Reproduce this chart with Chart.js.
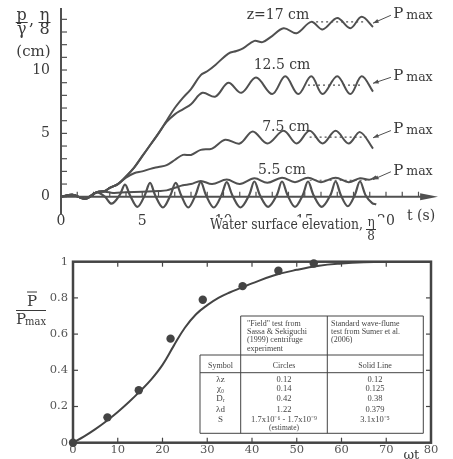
<!DOCTYPE html>
<html><head><meta charset="utf-8">
<script src="https://cdn.jsdelivr.net/npm/chart.js@4"></script>
<style>
html,body{margin:0;padding:0;background:#fff;width:453px;height:459px;overflow:hidden}
canvas{position:absolute;left:0}
#c1{top:0}
#c2{top:240px}
</style></head><body>
<canvas id="c1" width="453" height="240"></canvas>
<canvas id="c2" width="453" height="219"></canvas>
<script>
// ---------- Top chart data: p/gamma and eta/8 (cm) vs t (s) ----------
const waterT = [0, 0.7, 1.5, 2.2, 2.7, 3.12, 3.6, 3.94, 4.25, 4.7, 5.15, 5.48, 5.8, 6.27, 6.73, 7.06, 7.4, 7.83, 8.27, 8.6, 8.93, 9.4, 9.87, 10.2, 10.55, 11.05, 11.57, 11.9, 12.25, 12.75, 13.27, 13.6, 13.95, 14.4, 14.87, 15.2, 15.55, 16.05, 16.57, 16.9, 17.23, 17.65, 18.07, 18.4, 18.75, 19.15, 19.4];
const waterV = [0, 0.15, -0.15, 0.35, 0.0, -0.55, 0.1, 0.95, 0.1, -0.8, 0.1, 1.1, 0.1, -0.85, 0.1, 1.1, 0.1, -0.85, 0.1, 1.15, 0.1, -0.85, 0.1, 1.15, 0.1, -0.85, 0.1, 1.2, 0.1, -0.8, 0.1, 1.2, 0.1, -0.8, 0.1, 1.2, 0.1, -0.8, 0.1, 1.2, 0.1, -0.75, 0.1, 1.2, 0.1, -0.5, -0.6];

const z17T = [0, 0.7, 1.5, 2.2, 2.7, 3.0, 3.5, 4, 4.5, 5, 5.5, 6, 6.5, 7, 7.5, 8, 8.6, 9.0, 9.5, 10.3, 10.8, 11.2, 11.9, 12.4, 12.9, 13.7, 14.5, 15.4, 16.1, 17.0, 17.8, 18.5, 19.2];
const z17V = [0, 0.15, -0.15, 0.35, 0.45, 0.7, 1.0, 1.6, 2.3, 3.2, 4.1, 5.0, 6.0, 7.0, 7.8, 8.5, 9.6, 9.9, 10.4, 11.3, 11.5, 11.7, 12.3, 12.2, 12.6, 13.3, 12.9, 13.8, 13.2, 14.1, 13.3, 14.2, 13.4];

const z125T = [0, 0.7, 1.5, 2.2, 2.7, 3.0, 3.5, 4, 4.5, 5, 5.5, 6, 6.5, 7, 7.5, 8, 8.7, 9.5, 10.3, 11.1, 12.0, 13.0, 13.8, 14.6, 15.4, 16.1, 17.0, 17.8, 18.5, 19.2];
const z125V = [0, 0.15, -0.15, 0.35, 0.45, 0.7, 1.0, 1.6, 2.3, 3.2, 4.1, 5.0, 5.9, 6.5, 6.9, 7.3, 8.2, 7.9, 9.0, 8.2, 9.4, 8.1, 9.5, 8.1, 9.5, 8.1, 9.5, 8.1, 9.5, 8.3];

const z75T = [0, 0.7, 1.5, 2.2, 2.7, 3.0, 3.5, 4, 4.5, 5, 5.5, 6, 6.5, 7, 7.5, 8, 8.6, 9.3, 10.1, 11.0, 11.8, 12.7, 13.7, 14.5, 15.3, 16.1, 16.9, 17.7, 18.4, 19.2];
const z75V = [0, 0.15, -0.15, 0.35, 0.45, 0.7, 1.0, 1.5, 1.85, 2.0, 2.2, 2.35, 2.5, 2.9, 3.3, 3.3, 3.7, 3.8, 4.5, 4.2, 5.15, 4.2, 5.2, 4.2, 5.2, 4.2, 5.2, 4.2, 5.1, 3.8];

const z55T = [0, 0.7, 1.5, 2.2, 2.7, 3.2, 4, 5, 6, 6.5, 7, 7.5, 8, 8.6, 9.3, 10.2, 11.0, 11.9, 12.7, 13.6, 14.4, 15.2, 16.0, 16.9, 17.7, 18.4, 19.0, 19.4];
const z55V = [0, 0.15, -0.15, 0.35, 0.4, 0.3, 0.35, 0.4, 0.45, 0.5, 0.7, 0.9, 1.0, 1.25, 1.0, 1.35, 1.0, 1.45, 1.1, 1.5, 1.15, 1.5, 1.15, 1.5, 1.15, 1.45, 1.35, 1.6];

// p max levels (dotted lines) and their time spans
const pmaxLevels = [13.8, 8.8, 4.7, 1.3];
const pmaxFrom = [15.7, 15.2, 15.3, 15.3];
const pmaxTo = [18.6, 18.4, 18.8, 18.8];
const curveNames = ['z=17 cm', '12.5 cm', '7.5 cm', '5.5 cm'];

const topYTickLabels = [0, 5, 10];
const topXTickLabels = [0, 5, 10, 15, 20];

// ---------- Bottom chart data: P/Pmax vs omega t ----------
const lineWt = [0, 2.5, 5, 7.5, 10, 12.5, 15, 17.5, 20, 22.5, 25, 27.5, 30, 32.5, 35, 37.5, 40, 45, 50, 55, 60, 65, 70, 75, 80];
const lineP = [0, 0.035, 0.075, 0.12, 0.17, 0.225, 0.285, 0.35, 0.43, 0.535, 0.635, 0.71, 0.76, 0.8, 0.83, 0.855, 0.88, 0.925, 0.955, 0.978, 0.99, 0.997, 1.0, 1.0, 1.0];
const circleWt = [0, 7.7, 14.7, 21.8, 29.0, 37.9, 45.9, 53.8];
const circleP = [0, 0.14, 0.29, 0.575, 0.79, 0.865, 0.95, 0.99];

const tableHead2 = ['"Field" test from', 'Sassa & Sekiguchi', '(1999) centrifuge', 'experiment'];
const tableHead3 = ['Standard wave-flume', 'test from Sumer et al.', '(2006)'];
const tableSymbols = ['λz', 'χ₀', 'Dᵣ', 'λd', 'S'];
const tableCircles = ['0.12', '0.14', '0.42', '1.22', '1.7x10⁻⁶ - 1.7x10⁻⁹'];
const tableSolid = ['0.12', '0.125', '0.38', '0.379', '3.1x10⁻⁵'];

// ---------- helpers ----------
const zip = (a, b) => a.map((v, i) => ({x: v, y: b[i]}));
const SERIF = '"DejaVu Serif", "Liberation Serif", serif';
const INK = '#3a3a3a';
const LINE = '#505050';
Chart.defaults.font.family = SERIF;
Chart.defaults.color = INK;

function frac(ctx, top, bottom, cx, cy, size, w) {
  ctx.font = size + 'px ' + SERIF;
  ctx.textAlign = 'center';
  ctx.textBaseline = 'alphabetic';
  ctx.fillText(top, cx, cy - 2);
  ctx.fillText(bottom, cx, cy + size * 0.78);
  ctx.lineWidth = 1;
  ctx.beginPath(); ctx.moveTo(cx - w / 2, cy + 0.5); ctx.lineTo(cx + w / 2, cy + 0.5); ctx.stroke();
}

function arrow(ctx, x1, y1, x2, y2) {
  ctx.beginPath(); ctx.moveTo(x1, y1); ctx.lineTo(x2, y2); ctx.stroke();
  const ang = Math.atan2(y2 - y1, x2 - x1);
  ctx.beginPath();
  ctx.moveTo(x2, y2);
  ctx.lineTo(x2 - 6 * Math.cos(ang - 0.35), y2 - 6 * Math.sin(ang - 0.35));
  ctx.lineTo(x2 - 6 * Math.cos(ang + 0.35), y2 - 6 * Math.sin(ang + 0.35));
  ctx.closePath(); ctx.fill();
}

const noPadX = s => { s.paddingLeft = 0; s.paddingRight = 0; };
const noPadY = s => { s.paddingTop = 0; s.paddingBottom = 0; };

// ---------- Top chart ----------
const topAxes = {
  id: 'topAxes',
  beforeDatasetsDraw(chart) {
    const {ctx, chartArea: a, scales: {x, y}} = chart;
    const y0 = y.getPixelForValue(0);
    ctx.save();
    ctx.strokeStyle = LINE; ctx.fillStyle = LINE;
    ctx.lineWidth = 2;
    ctx.beginPath(); ctx.moveTo(a.left, y0); ctx.lineTo(x.getPixelForValue(22.7), y0); ctx.stroke();
    ctx.beginPath();
    ctx.moveTo(x.getPixelForValue(23.2), y0);
    ctx.lineTo(x.getPixelForValue(22.1), y0 - 3.5);
    ctx.lineTo(x.getPixelForValue(22.1), y0 + 3.5);
    ctx.closePath(); ctx.fill();
    ctx.lineWidth = 1.2;
    for (let t = 1; t <= 22; t++) {
      const px = x.getPixelForValue(t);
      ctx.beginPath(); ctx.moveTo(px, y0); ctx.lineTo(px, y0 - 5); ctx.stroke();
    }
    for (let v = 0; v <= 14; v++) {
      const py = y.getPixelForValue(v);
      ctx.beginPath(); ctx.moveTo(a.left, py); ctx.lineTo(a.left + 6, py); ctx.stroke();
    }
    ctx.restore();
  },
  afterDraw(chart) {
    const {ctx, scales: {x, y}} = chart;
    const X = v => x.getPixelForValue(v), Y = v => y.getPixelForValue(v);
    ctx.save();
    ctx.strokeStyle = LINE; ctx.fillStyle = INK;
    // dotted p max levels
    ctx.setLineDash([2, 3]); ctx.lineWidth = 1.2;
    pmaxLevels.forEach((lv, i) => {
      ctx.beginPath(); ctx.moveTo(X(pmaxFrom[i]), Y(lv)); ctx.lineTo(X(pmaxTo[i]), Y(lv)); ctx.stroke();
    });
    ctx.setLineDash([]);
    // curve labels
    ctx.font = '14px ' + SERIF; ctx.textAlign = 'center'; ctx.textBaseline = 'middle';
    const labT = [13.35, 13.6, 13.85, 13.6], labV = [14.35, 10.4, 5.5, 2.1];
    curveNames.forEach((n, i) => ctx.fillText(n, X(labT[i]), Y(labV[i]), 64));
    // P max labels and arrows
    const pmV = [14.4, 9.5, 5.3, 2.05], arrEndV = [13.7, 8.95, 4.65, 1.35];
    pmV.forEach((v, i) => {
      ctx.textAlign = 'left'; ctx.textBaseline = 'middle';
      ctx.font = '15px ' + SERIF; ctx.fillText('P', X(20.45), Y(v));
      ctx.font = '12.5px ' + SERIF; ctx.fillText('max', X(20.45) + 13, Y(v) + 1);
      ctx.strokeStyle = LINE; ctx.fillStyle = LINE; ctx.lineWidth = 1;
      arrow(ctx, X(20.3), Y(v) + 1, X(19.2), Y(arrEndV[i]));
      ctx.fillStyle = INK;
    });
    // y title
    ctx.strokeStyle = INK;
    frac(ctx, 'p', 'γ', 21.7, 22, 16, 12);
    ctx.font = '16px ' + SERIF; ctx.textAlign = 'center'; ctx.fillText(',', 31.5, 25);
    frac(ctx, 'η', '8', 44.5, 22, 16, 12);
    ctx.font = '15px ' + SERIF; ctx.textBaseline = 'middle'; ctx.fillText('(cm)', 33.5, 52, 37);
    // t (s)
    ctx.font = '14px ' + SERIF; ctx.textAlign = 'left';
    ctx.fillText('t (s)', 407, 216, 40);
    // water surface label (sits over the tick labels like in the original)
    ctx.fillStyle = '#fff'; ctx.fillRect(205, 217.5, 182, 23);
    ctx.fillStyle = INK; ctx.font = '14px ' + SERIF; ctx.textAlign = 'left'; ctx.textBaseline = 'alphabetic';
    ctx.fillText('Water surface elevation,', 210, 229, 153);
    ctx.font = '12px ' + SERIF; ctx.textAlign = 'center';
    ctx.fillText('η', 371, 226);
    ctx.lineWidth = 1; ctx.beginPath(); ctx.moveTo(366, 229.5); ctx.lineTo(376, 229.5); ctx.stroke();
    ctx.fillText('8', 371, 239.5);
    ctx.restore();
  }
};

const lineDs = (data, w) => ({data, showLine: true, borderColor: LINE, borderWidth: w, pointRadius: 0, tension: 0.35, fill: false, clip: false});

new Chart(document.getElementById('c1'), {
  type: 'scatter',
  data: {datasets: [
    lineDs(zip(waterT, waterV), 2.2),
    lineDs(zip(z17T, z17V), 2),
    lineDs(zip(z125T, z125V), 2),
    lineDs(zip(z75T, z75V), 2),
    lineDs(zip(z55T, z55V), 2)
  ]},
  options: {
    responsive: false, animation: false, events: [],
    layout: {padding: {left: 0, right: 15, top: 9.2, bottom: 0}},
    plugins: {legend: {display: false}, tooltip: {enabled: false}},
    scales: {
      x: {type: 'linear', min: 0, max: 23.2,
        grid: {display: false, drawTicks: false}, border: {display: false},
        ticks: {stepSize: 5, padding: 0, font: {size: 14}, color: INK, maxRotation: 0,
          callback: v => topXTickLabels.includes(v) ? String(v) : null},
        afterFit: s => { s.height = 26.8; noPadX(s); }},
      y: {type: 'linear', min: -1.3, max: 14.8,
        grid: {display: false, drawTicks: false}, border: {display: true, color: LINE, width: 2},
        ticks: {stepSize: 1, padding: 11, font: {size: 14}, color: INK,
          callback: v => topYTickLabels.includes(v) ? String(v) : null},
        afterFit: s => { s.width = 61; noPadY(s); }}
    }
  },
  plugins: [topAxes]
});

// ---------- Bottom chart ----------
const bottomDecor = {
  id: 'bottomDecor',
  beforeDatasetsDraw(chart) {
    const {ctx, chartArea: a, scales: {x, y}} = chart;
    ctx.save();
    ctx.strokeStyle = '#444'; ctx.lineWidth = 1.2;
    for (let t = 10; t <= 70; t += 10) {
      const px = x.getPixelForValue(t);
      ctx.beginPath(); ctx.moveTo(px, a.bottom); ctx.lineTo(px, a.bottom - 5); ctx.stroke();
      ctx.beginPath(); ctx.moveTo(px, a.top); ctx.lineTo(px, a.top + 5); ctx.stroke();
    }
    for (let k = 1; k <= 4; k++) {
      const py = y.getPixelForValue(k * 0.2);
      ctx.beginPath(); ctx.moveTo(a.left, py); ctx.lineTo(a.left + 5, py); ctx.stroke();
      ctx.beginPath(); ctx.moveTo(a.right, py); ctx.lineTo(a.right - 5, py); ctx.stroke();
    }
    ctx.restore();
  },
  afterDraw(chart) {
    const {ctx, chartArea: a, scales: {x, y}} = chart;
    ctx.save();
    ctx.strokeStyle = '#444'; ctx.lineWidth = 2.5;
    ctx.strokeRect(a.left, a.top, a.right - a.left, a.bottom - a.top);
    // table
    const L = 200, C2 = 240.7, C3 = 327.3, R = 423.3, T = 76, H1 = 115, H2 = 132.7, B = 193.3;
    ctx.fillStyle = '#fff';
    ctx.fillRect(C2, T, R - C2, H1 - T); ctx.fillRect(L, H1, R - L, B - H1);
    ctx.strokeStyle = '#444'; ctx.lineWidth = 1;
    ctx.beginPath();
    ctx.moveTo(C2, T); ctx.lineTo(R, T); ctx.lineTo(R, B); ctx.lineTo(L, B); ctx.lineTo(L, H1); ctx.lineTo(R, H1);
    ctx.moveTo(L, H2); ctx.lineTo(R, H2);
    ctx.moveTo(C2, T); ctx.lineTo(C2, B);
    ctx.moveTo(C3, T); ctx.lineTo(C3, B);
    ctx.stroke();
    ctx.fillStyle = '#444'; ctx.textBaseline = 'middle';
    ctx.font = '8px "Liberation Serif", serif'; ctx.textAlign = 'left';
    tableHead2.forEach((s, i) => ctx.fillText(s, 247, 84 + i * 8.2, 72));
    tableHead3.forEach((s, i) => ctx.fillText(s, 331, 84 + i * 8.2, 88));
    ctx.textAlign = 'center';
    ctx.fillText('Symbol', 220.5, 126);
    ctx.fillText('Circles', 284, 126);
    ctx.fillText('Solid Line', 375, 126);
    const rowY = [139.3, 149, 159, 169.7, 180];
    ctx.font = '9px "Liberation Serif", serif';
    tableSymbols.forEach((s, i) => ctx.fillText(s, 220.5, rowY[i]));
    ctx.font = '8.5px "Liberation Serif", serif';
    tableCircles.forEach((s, i) => ctx.fillText(s, 284, rowY[i], 80));
    tableSolid.forEach((s, i) => ctx.fillText(s, 375, rowY[i]));
    ctx.font = '7.5px "Liberation Serif", serif';
    ctx.fillText('(estimate)', 284, 188);
    // y title
    ctx.fillStyle = INK; ctx.strokeStyle = INK;
    ctx.font = '15px ' + SERIF; ctx.textAlign = 'center'; ctx.textBaseline = 'alphabetic';
    ctx.fillText('P', 32, 66);
    ctx.lineWidth = 1;
    ctx.beginPath(); ctx.moveTo(27, 52); ctx.lineTo(37, 52); ctx.stroke();
    ctx.beginPath(); ctx.moveTo(16, 70.5); ctx.lineTo(46, 70.5); ctx.stroke();
    ctx.textAlign = 'left';
    ctx.fillText('P', 16, 84);
    ctx.font = '11px ' + SERIF; ctx.fillText('max', 25, 85, 21);
    // omega t
    ctx.font = '13px ' + SERIF; ctx.textAlign = 'center';
    ctx.fillText('ωt', x.getPixelForValue(75.6), a.bottom + 16);
    ctx.restore();
  }
};

new Chart(document.getElementById('c2'), {
  type: 'scatter',
  data: {datasets: [
    {data: zip(lineWt, lineP), showLine: true, borderColor: '#444', borderWidth: 2, pointRadius: 0, tension: 0.4, fill: false},
    {data: zip(circleWt, circleP), showLine: false, pointRadius: 4.2, pointBackgroundColor: '#444', pointBorderColor: '#444', pointBorderWidth: 0, clip: false}
  ]},
  options: {
    responsive: false, animation: false, events: [],
    layout: {padding: {left: 0, right: 22, top: 21.7, bottom: 0}},
    plugins: {legend: {display: false}, tooltip: {enabled: false}},
    scales: {
      x: {type: 'linear', min: 0, max: 80,
        grid: {display: false, drawTicks: false}, border: {display: false},
        ticks: {stepSize: 10, padding: 0, font: {size: 11.5}, color: '#555', maxRotation: 0},
        afterFit: s => { s.height = 16.3; noPadX(s); }},
      y: {type: 'linear', min: 0, max: 1,
        grid: {display: false, drawTicks: false}, border: {display: false},
        ticks: {stepSize: 0.2, padding: 5, font: {size: 11.5}, color: '#555',
          callback: v => Math.abs(v) < 1e-9 ? '0' : Math.abs(v - 1) < 1e-9 ? '1' : (+v).toFixed(1)},
        afterFit: s => { s.width = 73; noPadY(s); }}
    }
  },
  plugins: [bottomDecor]
});
</script>
</body></html>
